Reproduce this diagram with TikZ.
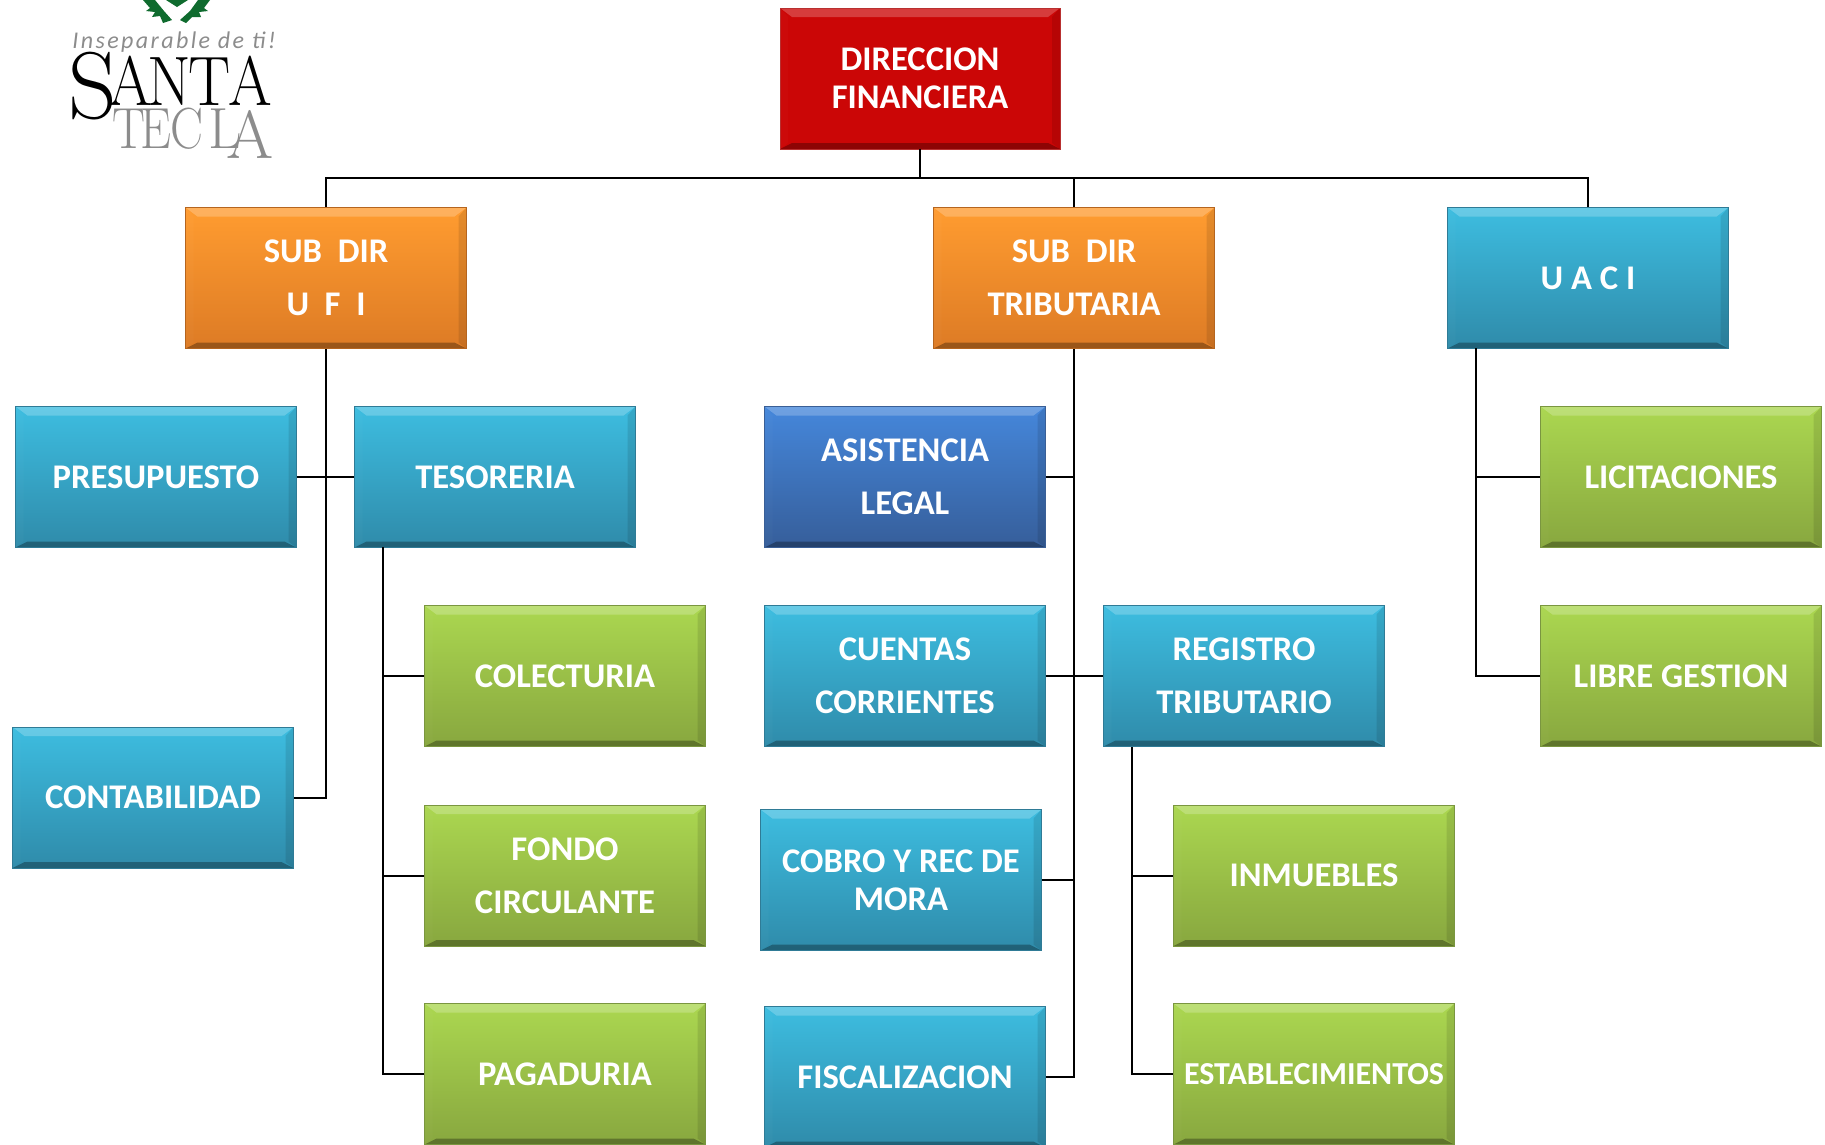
\documentclass[tikz,border=0pt]{standalone}
\usepackage{fontspec}
\setmainfont{Carlito}
\newfontfamily\logoserif{Latin Modern Roman}
\definecolor{tealT}{HTML}{3DBDE0}\definecolor{tealB}{HTML}{2F8BAA}\definecolor{tealD}{HTML}{2F7B96}
\definecolor{orangeT}{HTML}{FF9C30}\definecolor{orangeB}{HTML}{DD7B25}\definecolor{orangeD}{HTML}{B5651F}
\definecolor{greenT}{HTML}{ABD750}\definecolor{greenB}{HTML}{88A73F}\definecolor{greenD}{HTML}{7A9640}
\definecolor{blueT}{HTML}{4587DB}\definecolor{blueB}{HTML}{365E9A}\definecolor{blueD}{HTML}{3A5F96}
\definecolor{redT}{HTML}{CB0606}\definecolor{redB}{HTML}{CB0606}\definecolor{redD}{HTML}{B83030}
\definecolor{logogray}{HTML}{8C8C8C}
\definecolor{crest}{HTML}{0F6B2E}
\tikzset{
  x=1pt,y=-1pt,
  box/.style={rectangle,inner sep=0pt,minimum width=281pt,minimum height=141pt,
    text=white,align=center,font=\bfseries\fontsize{34.6}{53}\selectfont,
    draw=#1D,line width=.9pt,top color=#1T,bottom color=#1B,middle color=#1B!50!#1T,
    path picture={
      \coordinate (pa) at (path picture bounding box.north west);
      \coordinate (pb) at (path picture bounding box.south east);
      \fill[white,opacity=.22] (pa) -- (pa-|pb) -- ([shift={(-12pt,-9pt)}]pa-|pb) -- ([shift={(12pt,-9pt)}]pa) -- cycle;
      \fill[black,opacity=.3] (pb) -- (pb-|pa) -- ([shift={(12pt,6pt)}]pb-|pa) -- ([shift={(-12pt,6pt)}]pb) -- cycle;
      \fill[white,opacity=.02] (pa) -- (pa|-pb) -- ([shift={(8pt,6pt)}]pa|-pb) -- ([shift={(8pt,-9pt)}]pa) -- cycle;
      \fill[black,opacity=.1] (pb) -- (pa-|pb) -- ([shift={(-8pt,-9pt)}]pa-|pb) -- ([shift={(-8pt,6pt)}]pb) -- cycle;
    }},
  tight/.style={font=\bfseries\fontsize{34.6}{38}\selectfont},
  conn/.style={draw=black,line width=2pt},
  logotext/.style={inner sep=0pt,anchor=center},
  leaf/.style={fill=crest,draw=none}
}
\begin{document}
\begin{tikzpicture}
\useasboundingbox (0,0) rectangle (1825,1144);
\clip (0,0) rectangle (1825,1144);
\coordinate (bus) at (920,178);
\coordinate (tesdrop) at (383,547);
\coordinate (regdrop) at (1132,747);
\coordinate (uacidrop) at (1476,348);
\node[box=red,tight,minimum width=280pt,minimum height=141pt] (dir) at (920,78.5) {DIRECCION\\FINANCIERA};
\node[box=orange] (ufi) at (326,278) {SUB\ \ DIR\\U\ \ F\ \ I};
\node[box=orange] (trib) at (1074,278) {SUB\ \ DIR\\TRIBUTARIA};
\node[box=teal] (uaci) at (1588,278) {U A C I};
\node[box=teal] (pres) at (156,477) {PRESUPUESTO};
\node[box=teal] (tes) at (495,477) {TESORERIA};
\node[box=blue] (asis) at (905,477) {ASISTENCIA\\LEGAL};
\node[box=green] (lic) at (1681,477) {LICITACIONES};
\node[box=green] (cole) at (565,676) {COLECTURIA};
\node[box=teal] (cta) at (905,676) {CUENTAS\\CORRIENTES};
\node[box=teal] (reg) at (1244,676) {REGISTRO\\TRIBUTARIO};
\node[box=green] (libre) at (1681,676) {LIBRE GESTION};
\node[box=teal] (cont) at (153,797.5) {CONTABILIDAD};
\node[box=green] (fondo) at (565,875.5) {FONDO\\CIRCULANTE};
\node[box=green] (inm) at (1314,875.5) {INMUEBLES};
\node[box=teal,tight] (cobro) at (901,880) {COBRO Y REC DE\\MORA};
\node[box=green] (pag) at (565,1074) {PAGADURIA};
\node[box=green,font=\bfseries\fontsize{32}{38}\selectfont] (est) at (1314,1074) {ESTABLECIMIENTOS};
\node[box=teal] (fis) at (905,1077) {FISCALIZACION};
\draw[conn] (dir.south) -- (bus);
\draw[conn] (ufi.north) |- (bus) -| (trib.north);
\draw[conn] (bus) -| (uaci.north);
\draw[conn] (ufi.south) |- (cont.east);
\draw[conn] (pres.east) -- (tes.west);
\draw[conn] (tesdrop) |- (cole.west);
\draw[conn] (tesdrop) |- (fondo.west);
\draw[conn] (tesdrop) |- (pag.west);
\draw[conn] (trib.south) |- (fis.east);
\draw[conn] (asis.east) -- (asis.east-|trib.south);
\draw[conn] (cobro.east) -- (cobro.east-|trib.south);
\draw[conn] (cta.east) -- (reg.west);
\draw[conn] (regdrop) |- (inm.west);
\draw[conn] (regdrop) |- (est.west);
\draw[conn] (uacidrop) |- (lic.west);
\draw[conn] (uacidrop) |- (libre.west);
\fill[leaf] (143,0) -- (150,8) -- (146,11) -- (155,12) -- (152,17) -- (160,16) -- (163,23) -- (172,20) -- (164,11) -- (155,0) -- cycle;
\fill[leaf] (210,0) -- (204,8) -- (208,11) -- (199,12) -- (201,17) -- (192,17) -- (186,23) -- (180,20) -- (190,11) -- (198,0) -- cycle;
\fill[leaf] (166,0) -- (177,7) -- (188,0) -- cycle;
\node[logotext,text=logogray,font=\itshape\fontsize{24}{24}\selectfont\addfontfeature{LetterSpace=10}] (lema) at (174,42) {Inseparable de ti!};
\node[logotext,text=black,font=\logoserif,anchor=base west] (santa) at (68,118) {\fontsize{95}{95}\selectfont S\kern-8pt\raisebox{13pt}{\scalebox{.9}[1]{\fontsize{70}{70}\selectfont A\kern-5pt N\kern-4pt T\kern-2pt A}}};
\node[logotext,text=logogray,font=\logoserif,anchor=base west] (tecla) at (112,148) {\fontsize{58}{58}\selectfont\scalebox{.85}[1]{T\kern-5pt E\kern-2pt C}\kern5pt L\kern-15pt\raisebox{-10pt}{\fontsize{68}{68}\selectfont A}};
\end{tikzpicture}
\end{document}
